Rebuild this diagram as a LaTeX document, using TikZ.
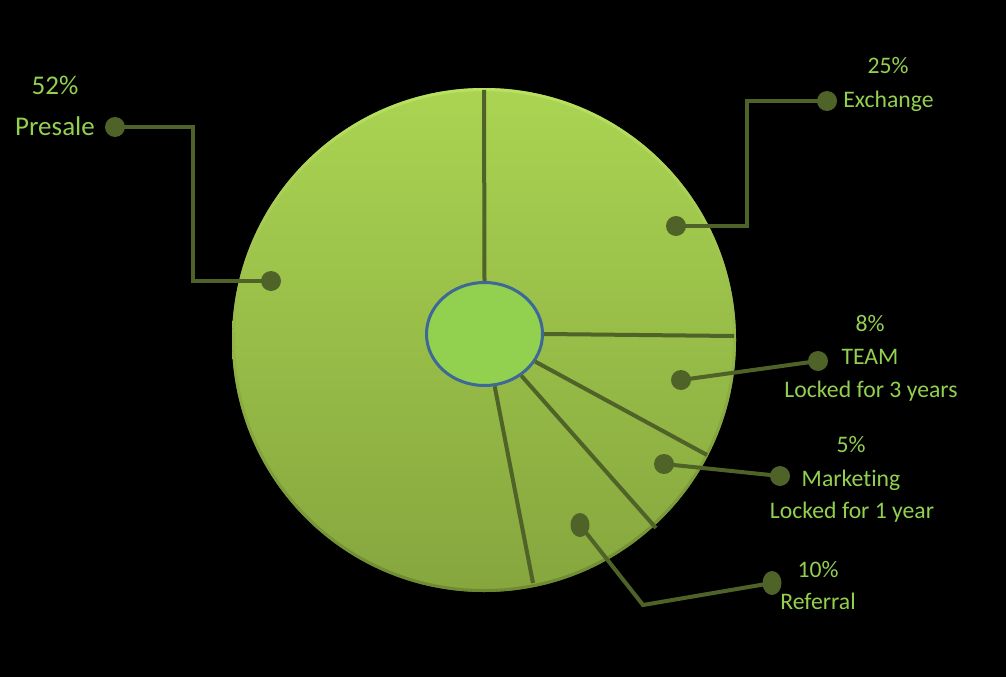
\documentclass[tikz,border=0pt]{standalone}
\usepackage{fontspec}
\setmainfont[Ligatures=NoCommon]{Carlito}
\usetikzlibrary{shapes.geometric}
\definecolor{olive}{RGB}{79,98,40}
\definecolor{lbl}{RGB}{146,208,80}
\definecolor{pietop}{RGB}{170,212,82}
\definecolor{piebot}{RGB}{134,166,62}
\definecolor{rimtop}{RGB}{190,230,100}
\definecolor{rimbot}{RGB}{104,132,46}
\definecolor{hubfill}{RGB}{146,208,80}
\definecolor{hubline}{RGB}{62,104,152}
\tikzset{
  dot/.style={circle,fill=olive,inner sep=0pt,minimum size=20pt},
  edot/.style={ellipse,fill=olive,inner sep=0pt,minimum width=19pt,minimum height=24pt},
  link/.style={draw=olive,line width=4pt,line join=miter},
  spoke/.style={draw=olive,line width=4pt},
  lab/.style={text=lbl,font=\fontsize{23.7}{28}\selectfont,anchor=base,inner sep=0pt},
  biglab/.style={text=lbl,font=\fontsize{27}{32}\selectfont,anchor=base,inner sep=0pt},
}
\begin{document}
\begin{tikzpicture}[x=1pt,y=-1pt]
\useasboundingbox[fill=black] (0,0) rectangle (1006,677);
% pie disc
\shade[top color=pietop,bottom color=piebot] (484,340) circle (252);
\shade[even odd rule,top color=rimtop,bottom color=rimbot,opacity=0.8] (484,340) circle (252) (484,340) circle (249);
% hub
\node[ellipse,fill=hubfill,draw=hubline,line width=3pt,inner sep=0pt,minimum width=116pt,minimum height=103pt] (hub) at (484.5,334) {};
% spoke end points
\coordinate (s1) at (484,90);
\coordinate (s2) at (734,336);
\coordinate (s3) at (707,455);
\coordinate (s4) at (656,528);
\coordinate (s5) at (533,583);
\draw[spoke] (hub.north) -- (s1);
\draw[spoke] (hub.east) -- (s2);
\draw[spoke] (hub) -- (s3);
\draw[spoke] (hub) -- (s4);
\draw[spoke] (hub) -- (s5);
% Presale
\node[dot] (p1) at (115,127) {};
\node[dot] (p2) at (271,281) {};
\draw[link] (p1.center) -- (193,127) -- (193,281) -- (p2.center);
\node[biglab] (p1a) at (55,94) {52\%};
\node[biglab] (p1b) at (55,135) {Presale};
% Exchange
\node[dot] (e1) at (827,101) {};
\node[dot] (e2) at (676,226) {};
\draw[link] (e1.center) -- (747,101) -- (747,226) -- (e2.center);
\node[lab] (e1a) at (888,74) {25\%};
\node[lab] (e1b) at (888.5,107) {Exchange};
% TEAM
\node[dot] (t1) at (818,361) {};
\node[dot] (t2) at (681,380) {};
\draw[link] (t1.center) -- (t2.center);
\node[lab] (t1a) at (870,331) {8\%};
\node[lab] (t1b) at (870,364) {TEAM};
\node[lab] (t1c) at (871,397) {Locked for 3 years};
% Marketing
\node[dot] (m1) at (780,476) {};
\node[dot] (m2) at (664,464) {};
\draw[link] (m1.center) -- (m2.center);
\node[lab] (m1a) at (851,452) {5\%};
\node[lab] (m1b) at (851,486) {Marketing};
\node[lab] (m1c) at (852,518) {Locked for 1 year};
% Referral
\node[edot] (r1) at (772,583) {};
\node[edot] (r2) at (580,525) {};
\draw[link] (r1.center) -- (643,605) -- (r2.center);
\node[lab] (r1a) at (818,577) {10\%};
\node[lab] (r1b) at (818,609) {Referral};
\end{tikzpicture}
\end{document}
